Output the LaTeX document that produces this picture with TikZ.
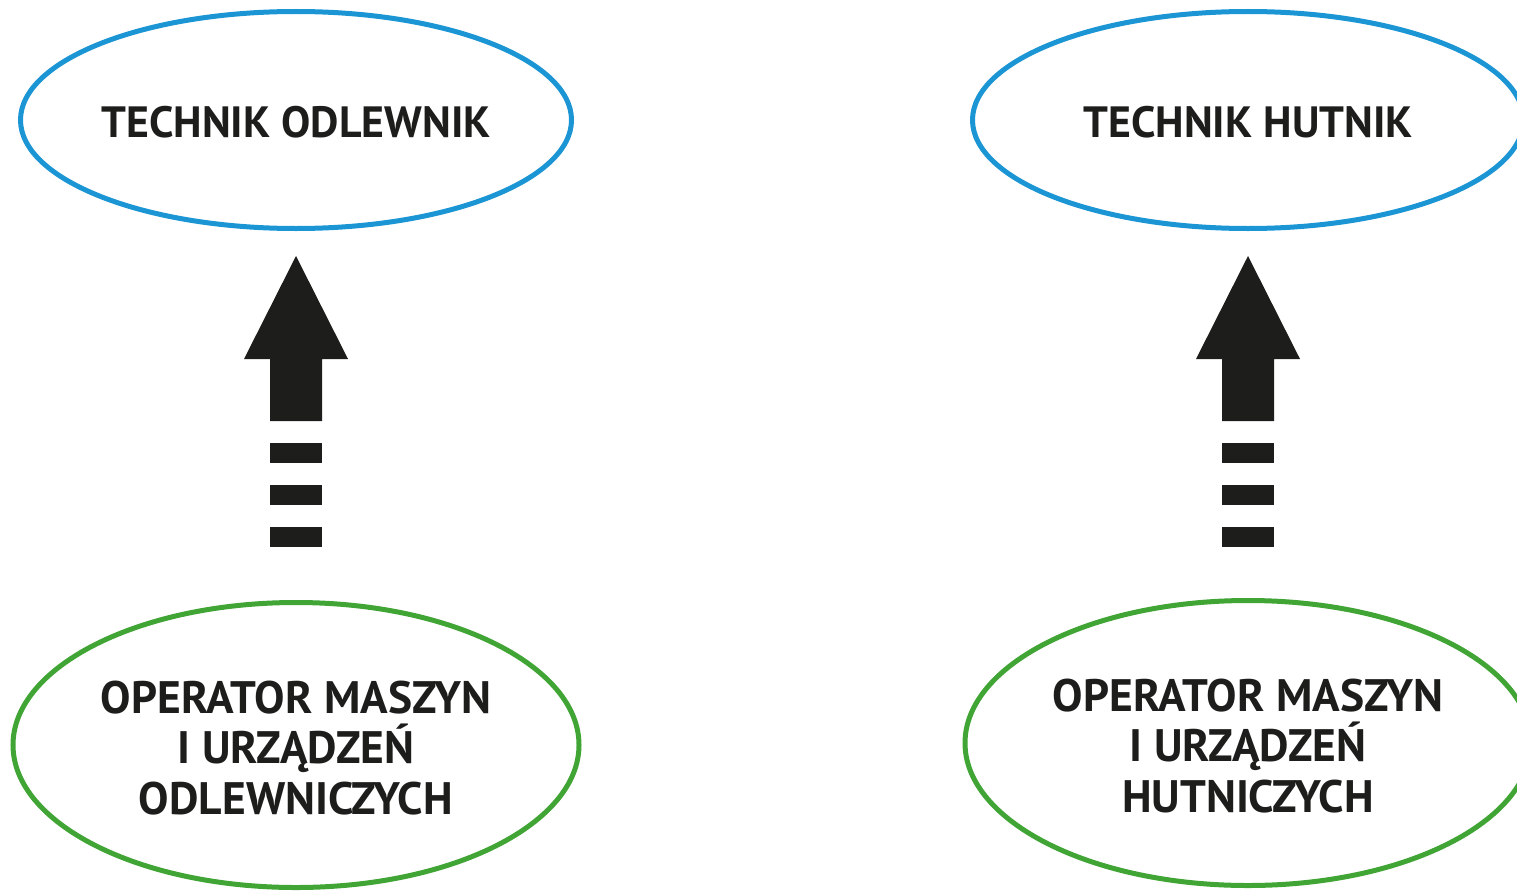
\documentclass[tikz,border=0pt]{standalone}
\usepackage{fontspec}
\setmainfont{PT Sans}
\usetikzlibrary{shapes.geometric}
\definecolor{eblue}{HTML}{1B95D3}
\definecolor{egreen}{HTML}{40A535}
\definecolor{ink}{HTML}{1D1D1B}
\tikzset{
  elbox/.style={ellipse, line width=5pt, inner sep=0pt},
  topel/.style={elbox, draw=eblue, minimum width=551pt, minimum height=217pt},
  botel/.style={elbox, draw=egreen, minimum width=566pt, minimum height=285pt},
  toptxt/.style={text=ink, align=center, inner sep=0pt, font=\bfseries\fontsize{43.8}{50}\selectfont},
  bottxt/.style={text=ink, align=center, inner sep=0pt, font=\bfseries\fontsize{45.5}{50.5}\selectfont},
  blk/.style={fill=ink, draw=none}
}
\begin{document}
\begin{tikzpicture}[x=1pt,y=-1pt]
\useasboundingbox (0,0) rectangle (1517,891);
\clip (0,0) rectangle (1517,891);
\node[topel] (t1) at (296,120) {};
\node[topel] (t2) at (1248,120) {};
\node[botel] (b1) at (296,745) {};
\node[botel] (b2) at (1248,743) {};
\node[toptxt] (t1l) at ([yshift=-2pt]t1.center) {TECHNIK ODLEWNIK};
\node[toptxt] (t2l) at ([yshift=-2pt]t2.center) {TECHNIK HUTNIK};
\node[bottxt] (b1l) at ([yshift=-3pt]b1.center) {OPERATOR MASZYN\\I URZĄDZEŃ\\ODLEWNICZYCH};
\node[bottxt] (b2l) at ([yshift=-3pt]b2.center) {OPERATOR MASZYN\\I URZĄDZEŃ\\HUTNICZYCH};
\foreach \cx in {296,1248}{
  \fill[blk] (\cx,256) -- (\cx+52,359) -- (\cx+26,359) -- (\cx+26,421)
     -- (\cx-26,421) -- (\cx-26,359) -- (\cx-52,359) -- cycle;
  \fill[blk] (\cx-26,443) rectangle (\cx+26,463);
  \fill[blk] (\cx-26,485) rectangle (\cx+26,505);
  \fill[blk] (\cx-26,527) rectangle (\cx+26,547);
}
\end{tikzpicture}
\end{document}
